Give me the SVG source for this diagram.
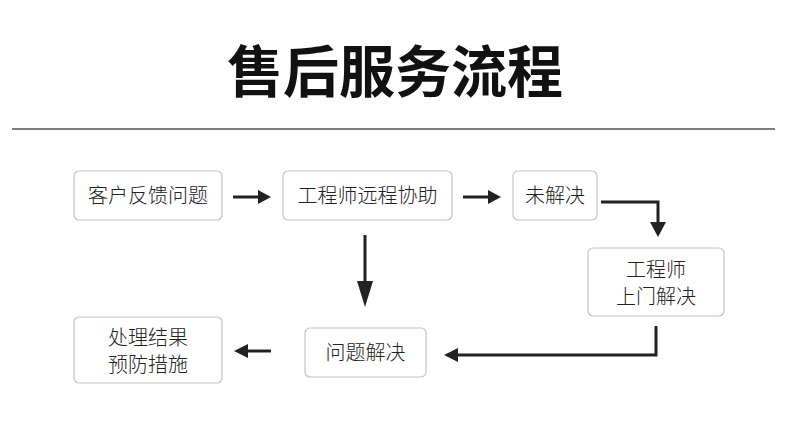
<svg xmlns="http://www.w3.org/2000/svg" width="790" height="430" viewBox="0 0 790 430">
<style>
.box{fill:#fff;stroke:#c4c4c4;stroke-width:1.2}
.t{font-family:"Noto Sans CJK SC","Noto Sans",sans-serif;font-size:20px;font-weight:300;fill:#222;text-anchor:middle}
.ln{stroke:#222;stroke-width:3;fill:none}
.ah{fill:#222}
</style>
<rect width="790" height="430" fill="#fff"/>
<text x="395" y="92" font-family="Noto Sans CJK SC,sans-serif" font-weight="bold" font-size="56" text-anchor="middle" fill="#111">售后服务流程</text>
<line x1="12" y1="129" x2="775" y2="129" stroke="#555" stroke-width="1.5"/>
<g id="n1"><rect class="box" x="74" y="171" width="148" height="49" rx="5"/><text class="t" x="148" y="203">客户反馈问题</text></g>
<g id="n2"><rect class="box" x="283" y="171" width="169" height="49" rx="5"/><text class="t" x="367.5" y="203">工程师远程协助</text></g>
<g id="n3"><rect class="box" x="513" y="171" width="84" height="49" rx="5"/><text class="t" x="555" y="203">未解决</text></g>
<g id="n4"><rect class="box" x="588" y="248" width="136" height="68" rx="5"/><text class="t" x="656" y="277">工程师</text><text class="t" x="656" y="304">上门解决</text></g>
<g id="n5"><rect class="box" x="305" y="328" width="121" height="49" rx="5"/><text class="t" x="365.5" y="360">问题解决</text></g>
<g id="n6"><rect class="box" x="74" y="317" width="148" height="66" rx="5"/><text class="t" x="148" y="345">处理结果</text><text class="t" x="148" y="372">预防措施</text></g>
<g id="connectors">
<line class="ln" x1="233" y1="197" x2="260" y2="197"/><polygon class="ah" points="271,197 258,190 258,204"/>
<line class="ln" x1="463" y1="197" x2="490" y2="197"/><polygon class="ah" points="501,197 488,190 488,204"/>
<polyline class="ln" points="601,202 658,202 658,225"/><polygon class="ah" points="658,237 650,222 666,222"/>
<line class="ln" x1="365" y1="235" x2="365" y2="285"/><polygon class="ah" points="365,307 357,281 373,281"/>
<polyline class="ln" points="656,326 656,355 455,355"/><polygon class="ah" points="444,355 458,348 458,362"/>
<line class="ln" x1="271" y1="351" x2="245" y2="351"/><polygon class="ah" points="234,351 248,344 248,358"/>
</g>
</svg>
